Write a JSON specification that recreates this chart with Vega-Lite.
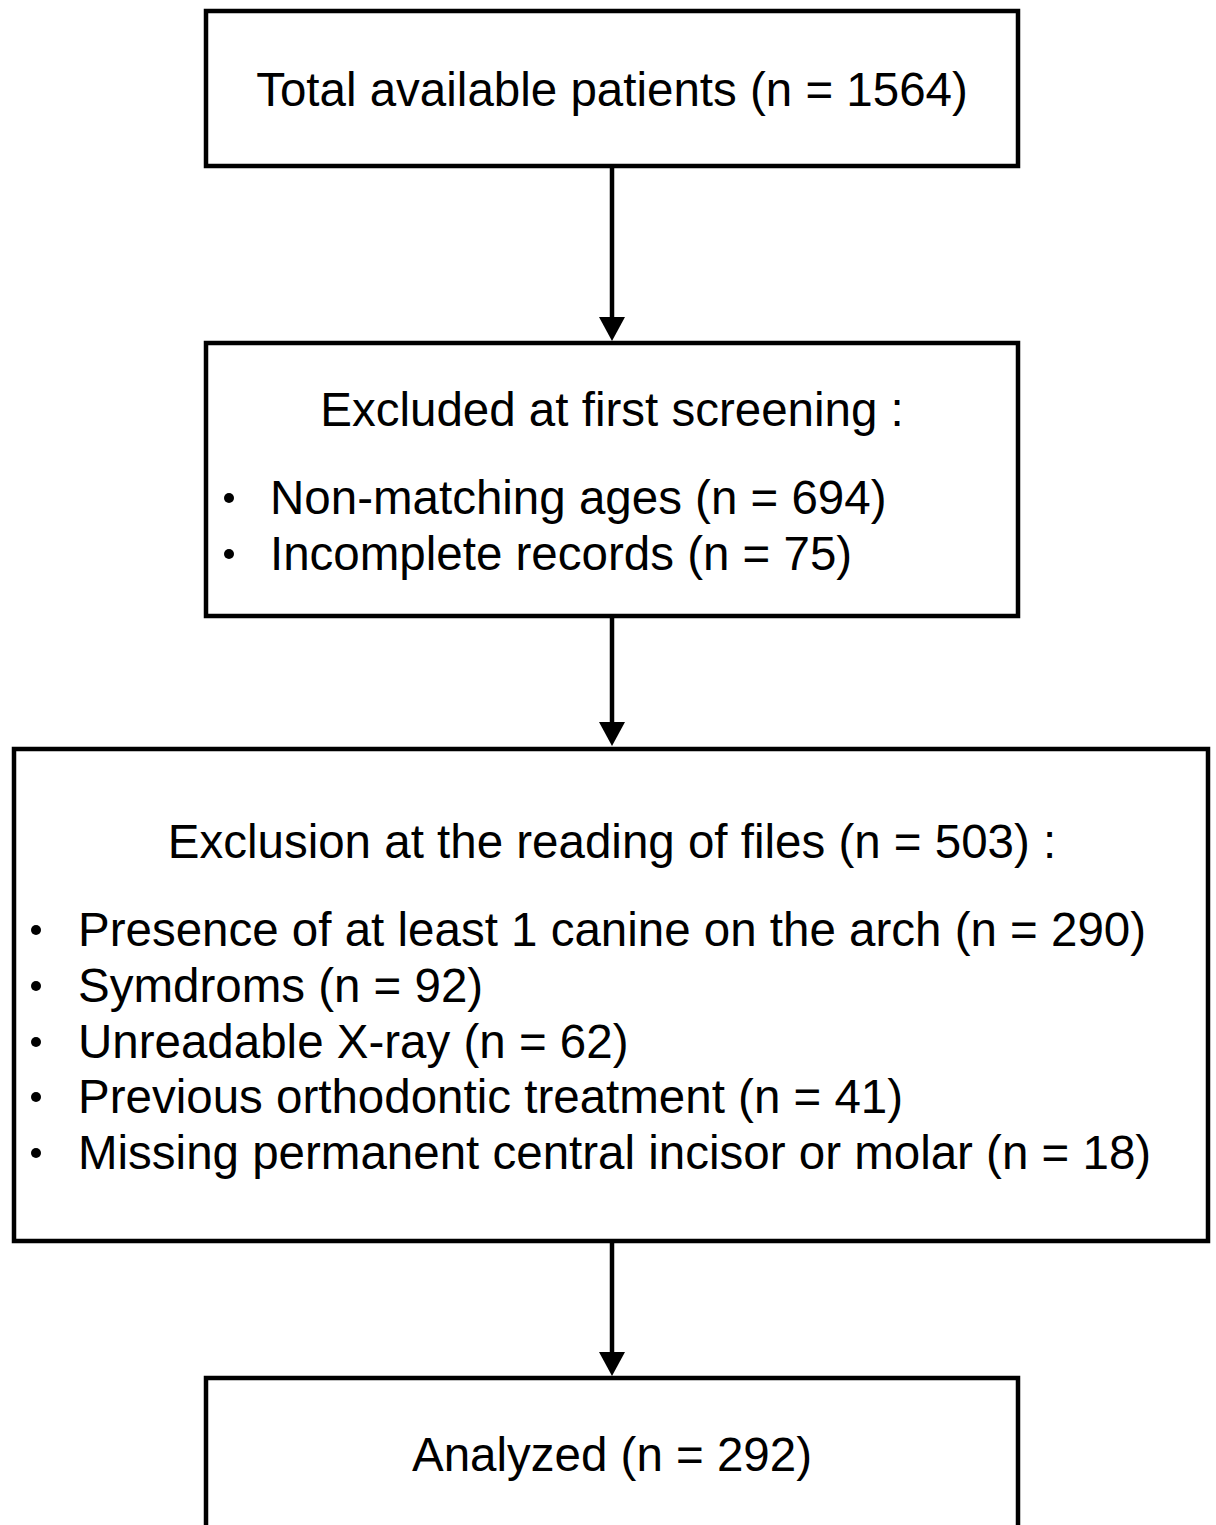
{
  "$schema": "https://vega.github.io/schema/vega-lite/v6.json",
  "autosize": {"type": "fit", "contains": "padding"},
  "width": 1216,
  "height": 1525,
  "padding": 0,
  "background": "white",
  "config": {"view": {"stroke": null}},
  "datasets": {
    "boxes": [
      {"box": "Total", "x1": 206, "x2": 1018, "y1": 11, "y2": 166},
      {"box": "First screening", "x1": 206, "x2": 1018, "y1": 343, "y2": 616},
      {"box": "Reading of files", "x1": 14, "x2": 1208, "y1": 749, "y2": 1241},
      {"box": "Analyzed", "x1": 206, "x2": 1018, "y1": 1378, "y2": 1560}
    ],
    "arrows": [
      {"x": 612, "from": 166, "to": 329, "head": 329},
      {"x": 612, "from": 616, "to": 734, "head": 734},
      {"x": 612, "from": 1241, "to": 1364, "head": 1364}
    ],
    "labels": [
      {"kind": "title", "x": 612, "y": 106, "text": "Total available patients (n = 1564)"},
      {"kind": "title", "x": 612, "y": 426, "text": "Excluded at first screening :"},
      {"kind": "item", "x": 270, "bx": 229, "y": 514, "text": "Non-matching ages (n = 694)"},
      {"kind": "item", "x": 270, "bx": 229, "y": 570, "text": "Incomplete records (n = 75)"},
      {"kind": "title", "x": 612, "y": 858, "text": "Exclusion at the reading of files (n = 503) :"},
      {"kind": "item", "x": 78, "bx": 36, "y": 946, "text": "Presence of at least 1 canine on the arch (n = 290)"},
      {"kind": "item", "x": 78, "bx": 36, "y": 1002, "text": "Symdroms (n = 92)"},
      {"kind": "item", "x": 78, "bx": 36, "y": 1058, "text": "Unreadable X-ray (n = 62)"},
      {"kind": "item", "x": 78, "bx": 36, "y": 1113, "text": "Previous orthodontic treatment (n = 41)"},
      {"kind": "item", "x": 78, "bx": 36, "y": 1169, "text": "Missing permanent central incisor or molar (n = 18)"},
      {"kind": "title", "x": 612, "y": 1471, "text": "Analyzed (n = 292)"}
    ]
  },
  "layer": [
    {
      "data": {"name": "boxes"},
      "mark": {"type": "rect", "fill": null, "filled": false, "stroke": "black", "strokeWidth": 4.5, "clip": true},
      "encoding": {
        "x": {"field": "x1", "type": "quantitative", "scale": {"domain": [0, 1216], "nice": false, "zero": false}, "axis": null},
        "x2": {"field": "x2"},
        "y": {"field": "y1", "type": "quantitative", "scale": {"domain": [0, 1525], "nice": false, "zero": false, "reverse": true}, "axis": null},
        "y2": {"field": "y2"}
      }
    },
    {
      "data": {"name": "arrows"},
      "mark": {"type": "rule", "stroke": "black", "strokeWidth": 4.5},
      "encoding": {
        "x": {"field": "x", "type": "quantitative"},
        "y": {"field": "from", "type": "quantitative"},
        "y2": {"field": "to"}
      }
    },
    {
      "data": {"name": "arrows"},
      "mark": {"type": "point", "shape": "M-1,-0.92L1,-0.92L0,0.92Z", "filled": true, "fill": "black", "stroke": null, "size": 676, "opacity": 1},
      "encoding": {
        "x": {"field": "x", "type": "quantitative"},
        "y": {"field": "head", "type": "quantitative"}
      }
    },
    {
      "data": {"name": "labels"},
      "transform": [{"filter": "datum.kind === 'title'"}],
      "mark": {"type": "text", "align": "center", "baseline": "alphabetic", "font": "Liberation Sans", "fontSize": 47.5, "color": "black"},
      "encoding": {
        "x": {"field": "x", "type": "quantitative"},
        "y": {"field": "y", "type": "quantitative"},
        "text": {"field": "text"}
      }
    },
    {
      "data": {"name": "labels"},
      "transform": [{"filter": "datum.kind === 'item'"}],
      "mark": {"type": "text", "align": "left", "baseline": "alphabetic", "font": "Liberation Sans", "fontSize": 47.5, "color": "black"},
      "encoding": {
        "x": {"field": "x", "type": "quantitative"},
        "y": {"field": "y", "type": "quantitative"},
        "text": {"field": "text"}
      }
    },
    {
      "data": {"name": "labels"},
      "transform": [{"filter": "datum.kind === 'item'"}],
      "mark": {"type": "point", "shape": "circle", "filled": true, "fill": "black", "stroke": null, "size": 100, "opacity": 1, "yOffset": -16},
      "encoding": {
        "x": {"field": "bx", "type": "quantitative"},
        "y": {"field": "y", "type": "quantitative"}
      }
    }
  ]
}
